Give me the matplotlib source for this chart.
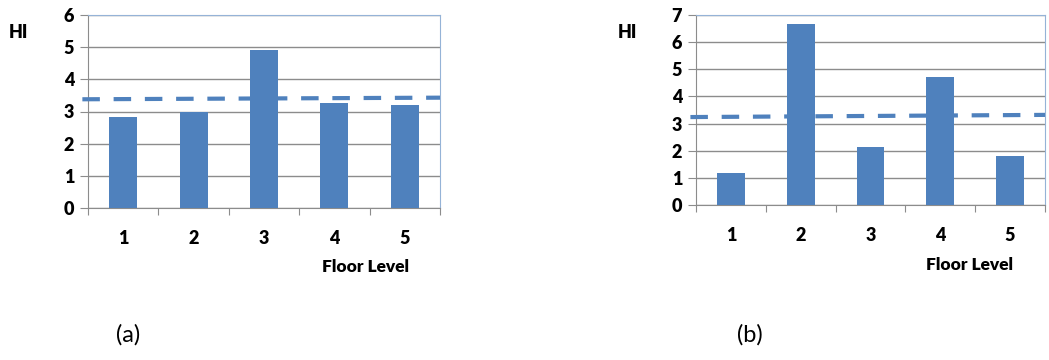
import matplotlib.pyplot as plt

plt.rcParams['font.family'] = ['Lato', 'DejaVu Sans']

floors = [1, 2, 3, 4, 5]
hi_a = [2.82, 2.99, 4.92, 3.25, 3.19]
hi_b = [1.18, 6.67, 2.13, 4.73, 1.79]
# dashed reference line, value at left and right edge of the plot
ref_a = [3.38, 3.43]
ref_b = [3.24, 3.32]

bar_color = '#4F81BD'
grid_color = '#8C8C8C'
frame_color = '#95B3D7'

fig = plt.figure(figsize=(10.49, 3.6), dpi=100)


def draw_panel(rect, values, ref, ymax, hi_pos, fl_pos, tag, tag_pos):
    ax = fig.add_axes(rect)
    ax.bar(floors, values, width=0.4, color=bar_color, zorder=3)
    ax.plot([0.42, 5.5], ref, color=bar_color, lw=3.0,
            linestyle=(0, (4.2, 3.3)), solid_capstyle='butt',
            clip_on=False, zorder=4)
    ax.set_xlim(0.5, 5.5)
    ax.set_ylim(0, ymax)
    ax.set_yticks(range(ymax + 1))
    ax.yaxis.grid(True, color=grid_color, lw=1.0, zorder=0)
    ax.set_xticks([x + 0.5 for x in range(0, 6)])
    ax.set_xticklabels([])
    ax.set_xticks(floors, minor=True)
    ax.set_xticklabels([str(f) for f in floors], minor=True,
                       fontsize=13, fontweight='heavy')
    ax.tick_params(axis='x', which='major', length=5, color=grid_color,
                   direction='out')
    ax.tick_params(axis='x', which='minor', length=0, pad=16)
    ax.tick_params(axis='y', length=6, color=grid_color, pad=4,
                   labelsize=13)
    for lbl in ax.get_yticklabels():
        lbl.set_fontweight('heavy')
    ax.spines['left'].set_color(grid_color)
    ax.spines['bottom'].set_color(grid_color)
    ax.spines['top'].set_color(frame_color)
    ax.spines['right'].set_color(frame_color)
    fig.text(hi_pos[0], hi_pos[1], 'HI', fontsize=13, fontweight='heavy',
             ha='center', va='center')
    fig.text(fl_pos[0], fl_pos[1], 'Floor Level', fontsize=12.5,
             fontweight='heavy', ha='center', va='center')
    fig.text(tag_pos[0], tag_pos[1], tag, fontsize=17, ha='center',
             va='center')
    return ax


draw_panel([88 / 1049, 1 - 208 / 360, 352 / 1049, 193 / 360], hi_a, ref_a, 6,
           (18 / 1049, 1 - 33 / 360), (365 / 1049, 1 - 267 / 360),
           '(a)', (128 / 1049, 1 - 335 / 360))
draw_panel([696 / 1049, 1 - 205 / 360, 349 / 1049, 190 / 360], hi_b, ref_b, 7,
           (627 / 1049, 1 - 33 / 360), (970 / 1049, 1 - 265 / 360),
           '(b)', (750 / 1049, 1 - 335 / 360))

fig.savefig('out.png', dpi=100)
